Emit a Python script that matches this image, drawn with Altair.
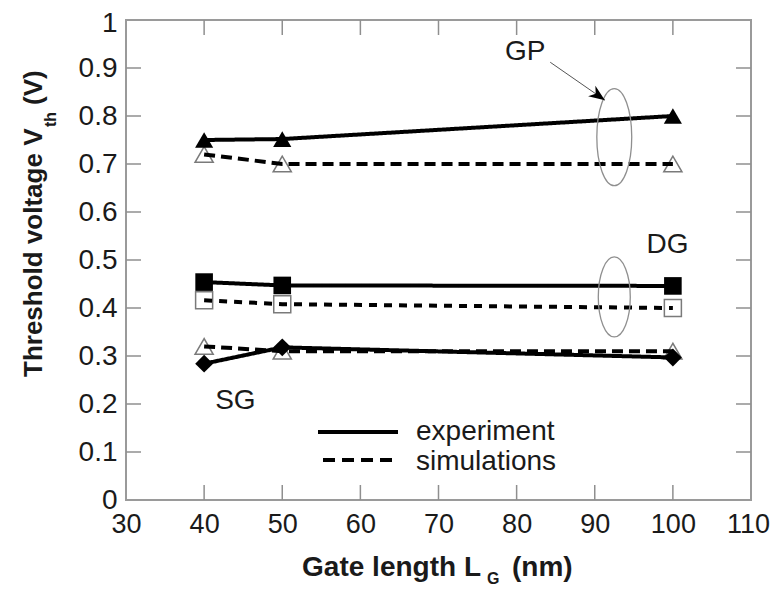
import altair as alt
import pandas as pd

# ---------------- data ----------------
gate_length = [40, 50, 100]
gp_experiment = [0.750, 0.752, 0.800]
gp_simulation = [0.720, 0.700, 0.700]
dg_experiment = [0.454, 0.447, 0.446]
dg_simulation = [0.416, 0.408, 0.400]
sg_experiment = [0.284, 0.318, 0.297]
sg_simulation = [0.320, 0.310, 0.310]

x_tick_values = [30, 40, 50, 60, 70, 80, 90, 100, 110]
y_tick_values = [0, 0.1, 0.2, 0.3, 0.4, 0.5, 0.6, 0.7, 0.8, 0.9, 1]
x_inner_ticks = [40, 50, 60, 70, 80, 90, 100]
y_inner_ticks = [0.1, 0.2, 0.3, 0.4, 0.5, 0.6, 0.7, 0.8, 0.9]

device_labels = ["GP", "DG", "SG"]
device_label_x = [81.1, 99.3, 44.0]
device_label_y = [0.933, 0.531, 0.206]

ellipse_x = [92.5, 92.5]
ellipse_y = [0.756, 0.423]

arrow_from = [84.3, 0.912]
arrow_to = [91.3, 0.833]

legend_labels = ["experiment", "simulations"]

# ---------------- setup ----------------
FONT = "Liberation Sans"
W, H = 625, 480
TXT = "#1a1a1a"
GRAY = "#8f8f8f"
FS = 28

xs = alt.Scale(domain=[30, 110], nice=False, zero=False)
ys = alt.Scale(domain=[0, 1], nice=False, zero=False)

x_axis = alt.Axis(
    values=x_tick_values, format="d", labelFont=FONT, labelFontSize=27,
    labelColor=TXT, ticks=False, domain=False, grid=False, title=None,
    labelPadding=11, labelFlush=False, labelOverlap=False,
    labelOffset=alt.condition("datum.value == 110", alt.value(-3), alt.value(0)))
y_axis = alt.Axis(
    values=y_tick_values, format="~g", labelFont=FONT, labelFontSize=FS,
    labelColor=TXT, ticks=False, domain=False, grid=False, title=None,
    labelPadding=9, labelFlush=False, labelOverlap=False,
    labelOffset=alt.condition("datum.value == 1", alt.value(3), alt.value(0)))


def series_df(name, ys_):
    return pd.DataFrame({"L": gate_length, "V": ys_, "series": name})


series_order = ["GP exp", "GP sim", "DG exp", "DG sim", "SG exp", "SG sim"]
series_vals = [gp_experiment, gp_simulation, dg_experiment, dg_simulation,
               sg_experiment, sg_simulation]
df = pd.concat([series_df(n, v) for n, v in zip(series_order, series_vals)],
               ignore_index=True)

X = lambda f="L": alt.X(f"{f}:Q", scale=xs, axis=x_axis)
Y = lambda f="V": alt.Y(f"{f}:Q", scale=ys, axis=y_axis)

# inward ticks
xt = pd.DataFrame({"L": x_inner_ticks})
yt = pd.DataFrame({"V": y_inner_ticks})
tick_style = dict(color=GRAY, strokeWidth=1.5)
ticks = [
    alt.Chart(xt).mark_rule(**tick_style).encode(x=X(), y=alt.value(H), y2=alt.value(H - 15)),
    alt.Chart(xt).mark_rule(**tick_style).encode(x=X(), y=alt.value(0), y2=alt.value(15)),
    alt.Chart(yt).mark_rule(**tick_style).encode(y=Y(), x=alt.value(0), x2=alt.value(15)),
    alt.Chart(yt).mark_rule(**tick_style).encode(y=Y(), x=alt.value(W), x2=alt.value(W - 15)),
]


def sub(name):
    return df[df["series"] == name]


open_style = dict(filled=True, fill="white", stroke="#7a7a7a", strokeWidth=1.5, opacity=1)
open_markers = [
    alt.Chart(sub("GP sim")).mark_point(shape="triangle-up", size=330, **open_style).encode(x=X(), y=Y()),
    alt.Chart(sub("DG sim")).mark_point(shape="square", size=290, **open_style).encode(x=X(), y=Y()),
    alt.Chart(sub("SG sim")).mark_point(shape="triangle-up", size=330, **open_style).encode(x=X(), y=Y()),
]

lines = alt.Chart(df).mark_line(color="black", strokeWidth=4).encode(
    x=X(), y=Y(), detail="series:N",
    strokeDash=alt.StrokeDash("series:N", legend=None, scale=alt.Scale(
        domain=series_order,
        range=[[1, 0], [11, 6], [1, 0], [8, 7], [1, 0], [11, 6]])),
)

filled_style = dict(filled=True, color="black", opacity=1)
filled_markers = [
    alt.Chart(sub("GP exp")).mark_point(shape="triangle-up", size=330, **filled_style).encode(x=X(), y=Y()),
    alt.Chart(sub("DG exp")).mark_point(shape="square", size=310, **filled_style).encode(x=X(), y=Y()),
    alt.Chart(sub("SG exp")).mark_point(shape="diamond", size=320, **filled_style).encode(x=X(), y=Y()),
]

# annotations
labels_df = pd.DataFrame({"t": device_labels, "L": device_label_x, "V": device_label_y})
labels = alt.Chart(labels_df).mark_text(font=FONT, fontSize=FS, color=TXT).encode(
    x=X(), y=Y(), text="t:N")


def ellipse_path(a):
    k = 0.5523
    return (f"M 0 -1 C {k*a:.4f} -1 {a} {-k} {a} 0 "
            f"C {a} {k} {k*a:.4f} 1 0 1 "
            f"C {-k*a:.4f} 1 {-a} {k} {-a} 0 "
            f"C {-a} {-k} {-k*a:.4f} -1 0 -1 Z")


ell_gp = alt.Chart(pd.DataFrame({"L": [ellipse_x[0]], "V": [ellipse_y[0]]})).mark_point(
    shape=ellipse_path(0.36), size=97 * 97, filled=False, color=GRAY, strokeWidth=1.3, opacity=1
).encode(x=X(), y=Y())
ell_dg = alt.Chart(pd.DataFrame({"L": [ellipse_x[1]], "V": [ellipse_y[1]]})).mark_point(
    shape=ellipse_path(0.40), size=80 * 80, filled=False, color=GRAY, strokeWidth=1.3, opacity=1
).encode(x=X(), y=Y())

arrow_df = pd.DataFrame({"L": [arrow_from[0]], "V": [arrow_from[1]],
                         "L2": [arrow_to[0]], "V2": [arrow_to[1]]})
arrow_line = alt.Chart(arrow_df).mark_rule(color="#555", strokeWidth=1).encode(
    x=X(), y=Y(), x2="L2:Q", y2="V2:Q")
arrow_head = alt.Chart(arrow_df).mark_point(
    shape="M 0 0 L -2 -0.8 L -1.4 0 L -2 0.8 Z", filled=True, color="black",
    size=256, angle=34.6, opacity=1).encode(x=X("L2"), y=Y("V2"))

# legend
one = pd.DataFrame({"k": [0]})
leg = [
    alt.Chart(one).mark_rule(color="black", strokeWidth=4).encode(
        x=alt.value(192), x2=alt.value(272), y=alt.value(412)),
    alt.Chart(one).mark_rule(color="black", strokeWidth=4, strokeDash=[12, 7]).encode(
        x=alt.value(197), x2=alt.value(272), y=alt.value(440)),
    alt.Chart(one).mark_text(font=FONT, fontSize=FS, color=TXT, align="left", baseline="middle").encode(
        x=alt.value(290), y=alt.value(412), text=alt.value(legend_labels[0])),
    alt.Chart(one).mark_text(font=FONT, fontSize=FS, color=TXT, align="left", baseline="middle").encode(
        x=alt.value(290), y=alt.value(442), text=alt.value(legend_labels[1])),
]

# axis titles with subscripts
tb = dict(font=FONT, fontWeight="bold", color=TXT, baseline="alphabetic")
titles = [
    alt.Chart(one).mark_text(fontSize=28, align="right", **tb).encode(
        x=alt.value(355), y=alt.value(556), text=alt.value("Gate length L")),
    alt.Chart(one).mark_text(fontSize=16, align="left", **tb).encode(
        x=alt.value(361), y=alt.value(564), text=alt.value("G")),
    alt.Chart(one).mark_text(fontSize=28, align="left", **tb).encode(
        x=alt.value(386), y=alt.value(556), text=alt.value("(nm)")),
    alt.Chart(one).mark_text(fontSize=26, align="left", angle=270, **tb).encode(
        x=alt.value(-84), y=alt.value(357), text=alt.value("Threshold voltage V")),
    alt.Chart(one).mark_text(fontSize=16, align="left", angle=270, **tb).encode(
        x=alt.value(-70), y=alt.value(107), text=alt.value("th")),
    alt.Chart(one).mark_text(fontSize=26, align="left", angle=270, **tb).encode(
        x=alt.value(-84), y=alt.value(85), text=alt.value("(V)")),
]

chart = alt.layer(
    *ticks, *open_markers, lines, *filled_markers,
    ell_gp, ell_dg, arrow_line, arrow_head, labels, *leg, *titles,
).properties(
    width=W, height=H,
    autosize=alt.AutoSizeParams(type="none"),
    padding={"left": 118, "top": 12, "right": 19, "bottom": 86},
).configure_view(stroke="#9a9a9a", strokeWidth=2)

chart.save("out.html", embed_options={"renderer": "svg", "actions": False})
